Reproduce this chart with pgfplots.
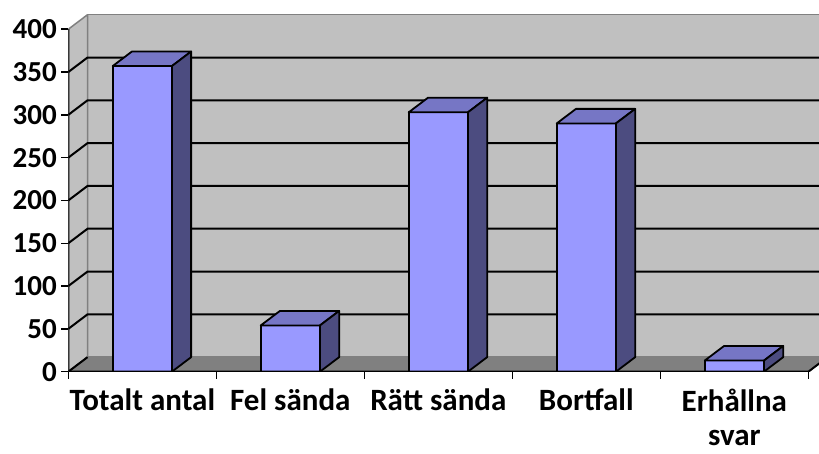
\documentclass[border=0pt]{standalone}
\usepackage{pgfplots}
\pgfplotsset{compat=1.18}
\usepackage{fontspec}
\setmainfont{Carlito}
\definecolor{wall}{HTML}{C0C0C0}
\definecolor{floorc}{HTML}{808080}
\definecolor{barfront}{HTML}{9999FF}
\definecolor{bartop}{HTML}{7676C5}
\definecolor{barside}{HTML}{4C4C80}
\begin{document}
\begin{tikzpicture}
\begin{axis}[
  name=ax,
  scale only axis,
  width=750.7pt, height=357pt,
  xmin=0, xmax=5.072, ymin=0, ymax=417,
  axis line style={draw=none},
  xtick pos=bottom, ytick pos=left,
  tick align=outside,
  major tick length=7pt,
  every tick/.style={black, line width=1.5pt},
  ytick={0,50,...,400},
  yticklabel style={font=\fontsize{29}{32}\selectfont\bfseries, xshift=-1pt},
  /pgf/number format/assume math mode=true,
  xtick={0,1,2,3,4,5},
  xticklabels={},
  extra x ticks={0.5,1.5,2.5,3.5,4.5},
  extra x tick labels={Totalt antal, Fel sända, Rätt sända, Bortfall, Erhållna\\[1pt]svar},
  extra x tick style={major tick length=0pt, tick label style={font=\fontsize{31}{33}\selectfont\bfseries, align=center, inner ysep=1pt, yshift=-16pt}},
  unbounded coords=jump,
]
% back wall
\addplot[fill=wall, draw=floorc, line width=1.5pt] coordinates {(0.13,17)(5.3,17)(5.3,417)(0.13,417)} -- cycle;
% left wall
\addplot[fill=wall, draw=floorc, line width=1.5pt] coordinates {(0,0)(0.13,17)(0.13,417)(0,400)} -- cycle;
% floor
\addplot[fill=floorc, draw=floorc, line width=1pt] coordinates {(0,0)(5,0)(5.13,17)(0.13,17)} -- cycle;
% gridlines
\addplot[black, line width=2pt] coordinates {
 (0,0)(0.13,17) (0,nan)
 (0,50)(0.13,67)(5.3,67) (0,nan)
 (0,100)(0.13,117)(5.3,117) (0,nan)
 (0,150)(0.13,167)(5.3,167) (0,nan)
 (0,200)(0.13,217)(5.3,217) (0,nan)
 (0,250)(0.13,267)(5.3,267) (0,nan)
 (0,300)(0.13,317)(5.3,317) (0,nan)
 (0,350)(0.13,367)(5.3,367)
};
% bars: values 357, 54, 303, 290, 13
\addplot[fill=barfront, draw=black, line width=1.8pt, line join=round] coordinates {(0.3,0)(0.7,0)(0.7,357)(0.3,357)} -- cycle;
\addplot[fill=bartop, draw=black, line width=1.8pt, line join=round] coordinates {(0.3,357)(0.7,357)(0.83,374)(0.43,374)} -- cycle;
\addplot[fill=barside, draw=black, line width=1.8pt, line join=round] coordinates {(0.7,0)(0.83,17)(0.83,374)(0.7,357)} -- cycle;

\addplot[fill=barfront, draw=black, line width=1.8pt, line join=round] coordinates {(1.3,0)(1.7,0)(1.7,54)(1.3,54)} -- cycle;
\addplot[fill=bartop, draw=black, line width=1.8pt, line join=round] coordinates {(1.3,54)(1.7,54)(1.83,71)(1.43,71)} -- cycle;
\addplot[fill=barside, draw=black, line width=1.8pt, line join=round] coordinates {(1.7,0)(1.83,17)(1.83,71)(1.7,54)} -- cycle;

\addplot[fill=barfront, draw=black, line width=1.8pt, line join=round] coordinates {(2.3,0)(2.7,0)(2.7,303)(2.3,303)} -- cycle;
\addplot[fill=bartop, draw=black, line width=1.8pt, line join=round] coordinates {(2.3,303)(2.7,303)(2.83,320)(2.43,320)} -- cycle;
\addplot[fill=barside, draw=black, line width=1.8pt, line join=round] coordinates {(2.7,0)(2.83,17)(2.83,320)(2.7,303)} -- cycle;

\addplot[fill=barfront, draw=black, line width=1.8pt, line join=round] coordinates {(3.3,0)(3.7,0)(3.7,290)(3.3,290)} -- cycle;
\addplot[fill=bartop, draw=black, line width=1.8pt, line join=round] coordinates {(3.3,290)(3.7,290)(3.83,307)(3.43,307)} -- cycle;
\addplot[fill=barside, draw=black, line width=1.8pt, line join=round] coordinates {(3.7,0)(3.83,17)(3.83,307)(3.7,290)} -- cycle;

\addplot[fill=barfront, draw=black, line width=1.8pt, line join=round] coordinates {(4.3,0)(4.7,0)(4.7,13)(4.3,13)} -- cycle;
\addplot[fill=bartop, draw=black, line width=1.8pt, line join=round] coordinates {(4.3,13)(4.7,13)(4.83,30)(4.43,30)} -- cycle;
\addplot[fill=barside, draw=black, line width=1.8pt, line join=round] coordinates {(4.7,0)(4.83,17)(4.83,30)(4.7,13)} -- cycle;
% front axis lines
\addplot[black, line width=2pt] coordinates {(0,400)(0,0)(5,0)(5.13,17)};
\end{axis}
\pgfresetboundingbox
\path ([shift={(-68.3pt,-82.3pt)}]ax.south west) rectangle ([shift={(750.7pt,371.7pt)}]ax.south west);
\end{tikzpicture}
\end{document}
